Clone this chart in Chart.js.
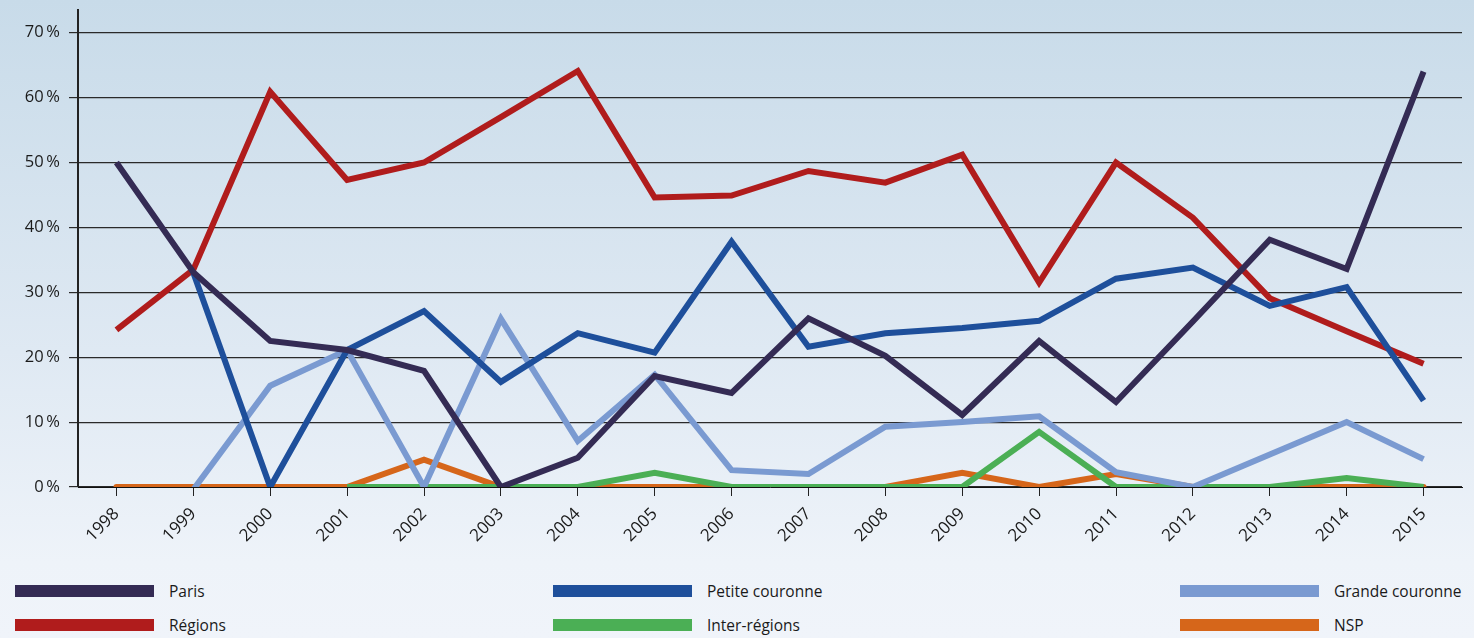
<!DOCTYPE html>
<html lang="fr">
<head>
<meta charset="utf-8">
<script src="https://cdn.jsdelivr.net/npm/chart.js@4.4.1/dist/chart.umd.min.js"></script>
<style>
  html, body {
    margin: 0;
    padding: 0;
  }
  body {
    width: 1474px;
    height: 638px;
    overflow: hidden;
    background: linear-gradient(180deg, #c8dbe9 0%, #dfe9f3 55%, #eef3f9 88%, #f0f4fa 100%);
    font-family: "Open Sans", "Noto Sans", sans-serif;
  }
  #wrap {
    position: relative;
    width: 1474px;
    height: 560px;
  }
  #legend {
    position: absolute;
    top: 580px;
    left: 0;
    width: 1474px;
    height: 58px;
  }
  .item {
    position: absolute;
    display: flex;
    align-items: center;
    font-size: 15.5px;
    color: #1a1a1a;
  }
  .swatch {
    width: 139px;
    height: 12px;
    margin-right: 15px;
  }
</style>
</head>
<body>
<div id="wrap"><canvas id="lineChart"></canvas></div>
<div id="legend"></div>

<script>
  const years = ["1998", "1999", "2000", "2001", "2002", "2003", "2004", "2005", "2006",
    "2007", "2008", "2009", "2010", "2011", "2012", "2013", "2014", "2015"];
  const yTicks = [0, 10, 20, 30, 40, 50, 60, 70];

  const paris = [50, 33.1, 22.5, 21.1, 17.9, 0, 4.5, 17.1, 14.5, 26, 20.2, 11.1, 22.5, 13.1, 25.5, 38.1, 33.6, 64];
  const petiteCouronne = [null, 33, 0, 21.1, 27.1, 16.2, 23.7, 20.7, 37.8, 21.6, 23.7, 24.5, 25.6, 32.1, 33.8, 27.9, 30.8, 13.3];
  const grandeCouronne = [null, -0.4, 15.6, 21.1, 0, 25.9, 7.1, 17.3, 2.6, 2, 9.3, 10, 10.9, 2.3, 0, 5, 10, 4.3];
  const regions = [24.2, 33.5, 60.9, 47.3, 50, 57, 64.1, 44.6, 44.9, 48.7, 46.9, 51.2, 31.5, 50, 41.5, 29.1, 24, 19];
  const interRegions = [null, null, null, 0, 0, 0, 0, 2.2, 0, 0, 0, 0, 8.5, 0, 0, 0, 1.4, 0];
  const nsp = [0, 0, 0, 0, 4.2, 0, 0, 0, 0, 0, 0, 2.2, 0, 2, 0, 0, 0, 0];

  const series = [
    { label: "Paris", data: paris, color: "#342b54", order: 1, x: 15, y: 0 },
    { label: "Petite couronne", data: petiteCouronne, color: "#1e4f9b", order: 2, x: 553, y: 0 },
    { label: "Grande couronne", data: grandeCouronne, color: "#7a9ad1", order: 3, x: 1180, y: 0 },
    { label: "Régions", data: regions, color: "#b01c1c", order: 4, x: 15, y: 34 },
    { label: "Inter-régions", data: interRegions, color: "#4baf55", order: 5, x: 553, y: 34 },
    { label: "NSP", data: nsp, color: "#d6661a", order: 6, x: 1180, y: 34 },
  ];

  // légende en HTML, trois colonnes
  const legend = document.getElementById("legend");
  series.forEach((s) => {
    const item = document.createElement("div");
    item.className = "item";
    item.style.left = s.x + "px";
    item.style.top = s.y + "px";
    const sw = document.createElement("div");
    sw.className = "swatch";
    sw.style.background = s.color;
    const txt = document.createElement("span");
    txt.textContent = s.label;
    item.appendChild(sw);
    item.appendChild(txt);
    legend.appendChild(item);
  });

  const ctx = document.getElementById("lineChart").getContext("2d");
  new Chart(ctx, {
    type: "line",
    data: {
      labels: years,
      datasets: series.map((s) => ({
        label: s.label,
        data: s.data,
        borderColor: s.color,
        backgroundColor: s.color,
        borderWidth: 6,
        pointRadius: 0,
        tension: 0,
        fill: false,
        spanGaps: false,
        order: s.order,
        borderCapStyle: s.label === "NSP" ? "round" : "butt",
        borderJoinStyle: "miter",
      })),
    },
    options: {
      responsive: true,
      maintainAspectRatio: false,
      animation: false,
      layout: {
        padding: { left: 0, top: 10, right: 12, bottom: 0 },
      },
      plugins: {
        legend: { display: false },
        tooltip: { enabled: false },
      },
      scales: {
        x: {
          type: "category",
          offset: true,
          grid: {
            display: true,
            drawOnChartArea: false,
            drawTicks: true,
            tickLength: 9,
            color: "#222",
            lineWidth: 1,
          },
          border: { display: true, color: "#111", width: 1 },
          ticks: {
            maxRotation: 45,
            minRotation: 45,
            color: "#1a1a1a",
            padding: 8,
            font: { family: "'Open Sans', 'Noto Sans', sans-serif", size: 17 },
          },
          afterFit: (scale) => {
            scale.height = 73;
          },
        },
        y: {
          min: 0,
          max: 73.5,
          grid: {
            color: "#2a2a2a",
            lineWidth: 1.2,
            tickLength: 9,
          },
          border: { display: true, color: "#222", width: 2 },
          ticks: {
            stepSize: 10,
            padding: 9,
            color: "#1a1a1a",
            font: { family: "'Open Sans', 'Noto Sans', sans-serif", size: 16.5 },
            callback: (v) => v + "\u2009%",
          },
          afterBuildTicks: (scale) => {
            scale.ticks = yTicks.map((v) => ({ value: v }));
          },
          afterFit: (scale) => {
            scale.width = 78;
            scale.paddingTop = 0;
            scale.paddingBottom = 0;
          },
        },
      },
    },
  });
</script>
</body>
</html>
